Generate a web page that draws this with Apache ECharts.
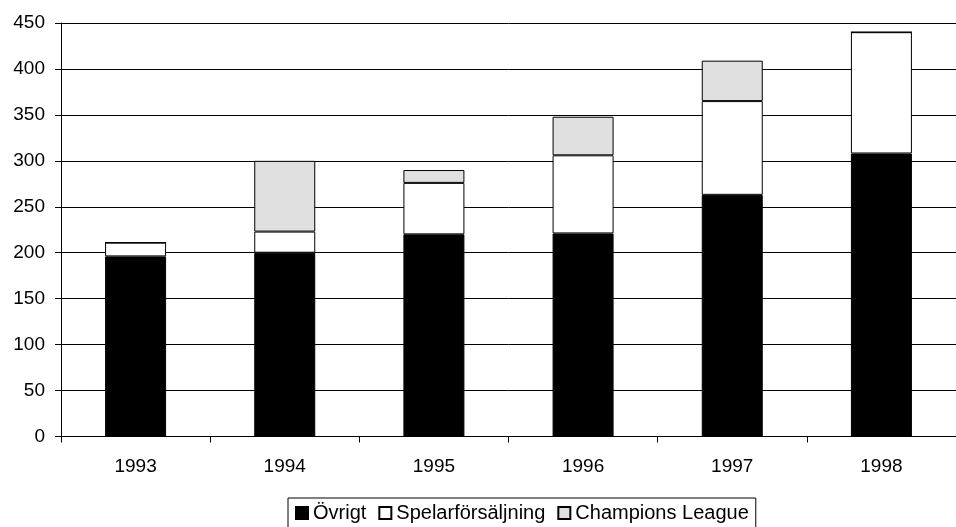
<!DOCTYPE html>
<html>
<head>
<meta charset="utf-8">
<script src="https://cdn.jsdelivr.net/npm/echarts@6/dist/echarts.min.js"></script>
<style>html,body{margin:0;padding:0;background:#fff}#c{width:956px;height:527px}</style>
</head>
<body>
<div id="c"></div>
<script>
const categories = ['1993', '1994', '1995', '1996', '1997', '1998'];
const ovrigt = [196, 200, 220, 221, 263, 308];
const spelar = [15, 23, 56, 85, 102, 132];
const champions = [0, 77, 14, 42, 44, 0];
const seriesNames = ['Övrigt', 'Spelarförsäljning', 'Champions League'];
const yTicks = { min: 0, max: 450, interval: 50 };

const font = '"Liberation Sans", Arial, sans-serif';
const chart = echarts.init(document.getElementById('c'), null, { renderer: 'canvas' });
const fills = ['#000000', '#ffffff', '#e0e0e0'];
const data = [ovrigt, spelar, champions];

chart.setOption({
  animation: false,
  backgroundColor: '#ffffff',
  grid: { left: 61, top: 23, width: 903, height: 413.5, containLabel: false },
  xAxis: {
    type: 'category',
    data: categories,
    boundaryGap: true,
    axisLine: { show: true, lineStyle: { color: '#000', width: 1 } },
    axisTick: { show: true, length: 6, lineStyle: { color: '#000' }, interval: 0 },
    axisLabel: { color: '#000', fontSize: 19, fontFamily: font, margin: 21, interval: 0 },
    splitLine: { show: false }
  },
  yAxis: {
    type: 'value',
    min: yTicks.min, max: yTicks.max, interval: yTicks.interval,
    axisLine: { show: true, lineStyle: { color: '#000', width: 1 } },
    axisTick: { show: true, length: 6, lineStyle: { color: '#000' } },
    axisLabel: { color: '#000', fontSize: 19, fontFamily: font, margin: 16 },
    splitLine: { show: true, lineStyle: { color: '#000', width: 1 } }
  },
  legend: {
    left: 288, top: 498,
    orient: 'horizontal',
    data: seriesNames,
    icon: 'rect',
    itemWidth: 12, itemHeight: 12,
    itemGap: 12,
    padding: [5, 7, 6, 7],
    borderColor: '#000', borderWidth: 1,
    backgroundColor: '#fff',
    textStyle: { color: '#000', fontSize: 20, fontFamily: font }
  },
  series: seriesNames.map((name, i) => ({
    name: name,
    type: 'bar',
    stack: 'total',
    barWidth: 61,
    data: data[i],
    itemStyle: { color: fills[i], borderColor: '#000', borderWidth: 1 }
  }))
});
</script>
</body>
</html>
